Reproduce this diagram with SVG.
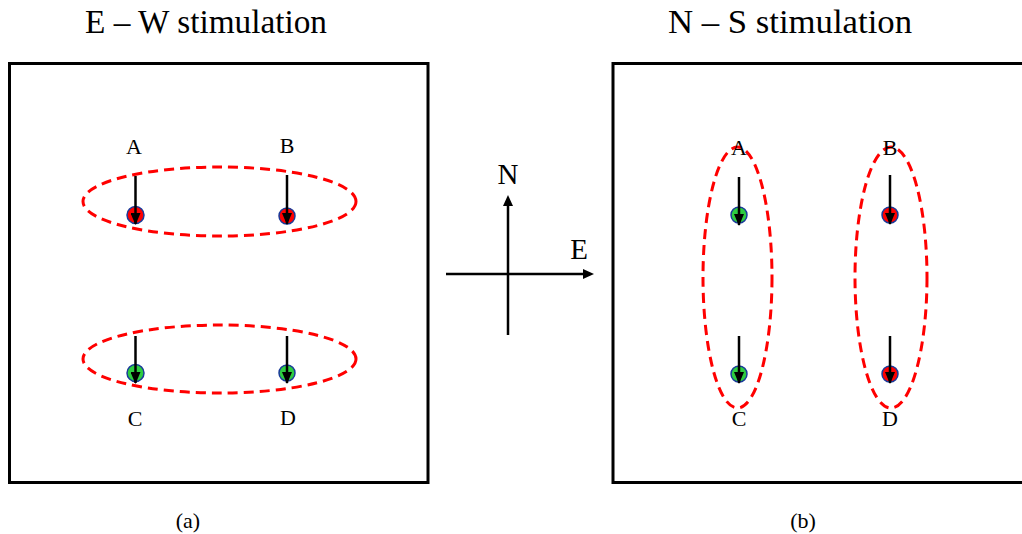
<svg xmlns="http://www.w3.org/2000/svg" width="1022" height="534" viewBox="0 0 1022 534">
<style>
text{font-family:"Liberation Serif","Times New Roman",serif;fill:#000;text-anchor:middle}
.title{font-size:34px}
.lab{font-size:22px}
.cap{font-size:22px}
.comp{font-size:29px}
.box{fill:none;stroke:#000;stroke-width:3}
.ell{fill:none;stroke:#f00;stroke-width:3;stroke-dasharray:10 6}
.dotr{fill:#f00;stroke:#1a3a9a;stroke-width:1.5}
.dotg{fill:#2ecc40;stroke:#1a3a9a;stroke-width:1.5}
.arr{stroke:#000;stroke-width:2.5;fill:none;marker-end:url(#ah)}
.ax{stroke:#000;stroke-width:2.5;fill:none}
</style>
<defs>
<marker id="ah" markerWidth="13" markerHeight="10" refX="11" refY="5" orient="auto" markerUnits="userSpaceOnUse">
<path d="M0,0 L12,5 L0,10 z" fill="#000"/>
</marker>
</defs>
<text class="title" x="206" y="33" textLength="242" lengthAdjust="spacingAndGlyphs">E – W stimulation</text>
<text class="title" x="790" y="33" textLength="244" lengthAdjust="spacingAndGlyphs">N – S stimulation</text>
<g id="panel-a">
<rect class="box" x="9.5" y="63.5" width="418.5" height="419"/>
<text class="cap" x="188" y="528">(a)</text>
</g>
<g id="panel-b">
<rect class="box" x="613" y="63.5" width="420" height="419"/>
<text class="cap" x="803" y="528">(b)</text>
</g>
<g id="a-group-AB">
<ellipse class="ell" cx="219.5" cy="201.5" rx="136.5" ry="34.5"/>
</g>
<g id="a-group-CD">
<ellipse class="ell" cx="219.5" cy="359" rx="136.5" ry="34"/>
</g>
<g id="a-A"><circle class="dotr" cx="135.5" cy="215" r="8.5"/><text class="lab" x="134" y="154">A</text></g>
<g id="a-B"><circle class="dotr" cx="287" cy="216" r="8"/><text class="lab" x="287" y="153">B</text></g>
<g id="a-C"><circle class="dotg" cx="135.5" cy="373" r="8.5"/><text class="lab" x="135" y="426">C</text></g>
<g id="a-D"><circle class="dotg" cx="287" cy="373" r="8"/><text class="lab" x="288" y="425">D</text></g>
<g id="b-group-AC">
<ellipse class="ell" cx="737.5" cy="277.5" rx="34.5" ry="130.5"/>
</g>
<g id="b-group-BD">
<ellipse class="ell" cx="891" cy="277.5" rx="36" ry="130.5"/>
</g>
<g id="b-A"><circle class="dotg" cx="739" cy="215" r="8"/><text class="lab" x="739" y="155">A</text></g>
<g id="b-B"><circle class="dotr" cx="890" cy="215" r="8"/><text class="lab" x="890" y="155">B</text></g>
<g id="b-C"><circle class="dotg" cx="739" cy="374" r="8"/><text class="lab" x="739" y="426">C</text></g>
<g id="b-D"><circle class="dotr" cx="890" cy="374" r="8"/><text class="lab" x="890" y="426">D</text></g>
<g id="compass">
<text class="comp" x="508" y="184">N</text>
<text class="comp" x="579" y="259">E</text>
</g>
<g id="connectors">
<line class="arr" x1="135.5" y1="176" x2="135.5" y2="224"/>
<line class="arr" x1="287" y1="175" x2="287" y2="224"/>
<line class="arr" x1="135.5" y1="336" x2="135.5" y2="383"/>
<line class="arr" x1="287" y1="336" x2="287" y2="383"/>
<line class="arr" x1="739" y1="177" x2="739" y2="225"/>
<line class="arr" x1="890" y1="175" x2="890" y2="224"/>
<line class="arr" x1="739" y1="336" x2="739" y2="383"/>
<line class="arr" x1="890" y1="336" x2="890" y2="383"/>
<line class="ax" x1="508" y1="335" x2="508" y2="203"/>
<path d="M508,195 L503,206 L513,206 z" fill="#000"/>
<line class="ax" x1="446" y1="274" x2="586" y2="274"/>
<path d="M594,274 L583,269 L583,279 z" fill="#000"/>
</g>
</svg>
